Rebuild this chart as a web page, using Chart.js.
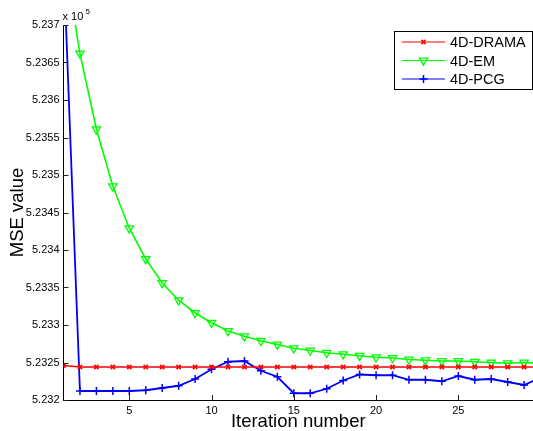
<!DOCTYPE html>
<html>
<head>
<meta charset="utf-8">
<script src="https://cdn.jsdelivr.net/npm/chart.js@4/dist/chart.umd.min.js"></script>
<style>
  html, body { margin: 0; padding: 0; background: #fff; }
  #msechart { display: block; }
</style>
</head>
<body>
<canvas id="msechart" width="533" height="431"></canvas>
<script>
// MSE values, in units of 1e5
const iterations = [1,2,3,4,5,6,7,8,9,10,11,12,13,14,15,16,17,18,19,20,21,22,23,24,25,26,27,28,29,30];
const dramaMSE = [5.23246,5.23244,5.23244,5.23244,5.23244,5.23244,5.23244,5.23244,5.23244,5.23244,
                  5.23244,5.23244,5.23244,5.23244,5.23244,5.23244,5.23244,5.23244,5.23244,5.23244,
                  5.23244,5.23244,5.23244,5.23244,5.23244,5.23244,5.23244,5.23244,5.23244,5.23244];
const emMSE = [5.23797,5.23662,5.23561,5.23485,5.23429,5.23388,5.23356,5.23333,5.23316,5.23303,
               5.23292,5.23285,5.23279,5.23274,5.23269,5.23266,5.23263,5.23261,5.23259,5.23257,
               5.23256,5.23254,5.23253,5.23252,5.23252,5.23251,5.2325,5.23249,5.2325,5.23249];
const pcgMSE = [5.23787,5.23212,5.23212,5.23212,5.23212,5.23213,5.23216,5.23219,5.23228,5.23241,
                5.23251,5.23252,5.23239,5.23231,5.23209,5.23209,5.23215,5.23226,5.23234,5.23233,
                5.23233,5.23227,5.23227,5.23225,5.23232,5.23227,5.23228,5.23224,5.2322,5.2323];
const seriesNames = ["4D-DRAMA", "4D-EM", "4D-PCG"];
const xTicks = [5, 10, 15, 20, 25];
const yTicks = [5.232, 5.2325, 5.233, 5.2335, 5.234, 5.2345, 5.235, 5.2355, 5.236, 5.2365, 5.237];

const FONT = "'Liberation Sans', Arial, Helvetica, sans-serif";

function toPoints(ys) {
  return iterations.map((x, i) => ({x: x, y: ys[i]}));
}

// MATLAB style: tick marks pointing into the plot, exponent label, boxed legend
const matlabBits = {
  id: "matlabBits",
  afterDraw(chart) {
    const ctx = chart.ctx;
    const xs = chart.scales.x, ys = chart.scales.y;
    const area = chart.chartArea;
    ctx.save();
    ctx.strokeStyle = "#222";
    ctx.lineWidth = 1;
    ctx.beginPath();
    xTicks.forEach(v => {
      const px = Math.round(xs.getPixelForValue(v)) + 0.5;
      ctx.moveTo(px, area.bottom);
      ctx.lineTo(px, area.bottom - 5);
    });
    yTicks.forEach(v => {
      const py = Math.round(ys.getPixelForValue(v)) + 0.5;
      ctx.moveTo(area.left, py);
      ctx.lineTo(area.left + 5, py);
    });
    ctx.stroke();

    // x 10^5
    ctx.fillStyle = "#000";
    ctx.textBaseline = "alphabetic";
    ctx.textAlign = "left";
    ctx.font = "11px " + FONT;
    ctx.fillText("x 10", area.left - 1, 20);
    ctx.font = "8px " + FONT;
    ctx.fillText("5", area.left + 22, 14);

    // legend
    const bx = 394, by = 31, bw = 138, bh = 58;
    ctx.fillStyle = "#fff";
    ctx.fillRect(bx, by, bw, bh);
    ctx.strokeStyle = "#000";
    ctx.strokeRect(bx + 0.5, by + 0.5, bw, bh);
    const rows = [42, 60.5, 79];
    chart.data.datasets.forEach((ds, i) => {
      const y = rows[i];
      ctx.strokeStyle = ds.borderColor;
      ctx.lineWidth = 1.2;
      ctx.beginPath();
      ctx.moveTo(402, y);
      ctx.lineTo(445, y);
      ctx.stroke();
      ctx.fillStyle = "rgba(0,0,0,0)";
      ctx.lineWidth = ds.pointBorderWidth;
      Chart.helpers.drawPoint(ctx, {
        pointStyle: ds.pointStyle,
        rotation: ds.pointRotation || 0,
        radius: ds.pointRadius,
        borderWidth: ds.pointBorderWidth
      }, 423.5, y);
      ctx.fillStyle = "#000";
      ctx.font = "14.5px " + FONT;
      ctx.textBaseline = "middle";
      ctx.fillText(ds.label, 450, y + 1);
    });
    ctx.restore();
  }
};

new Chart("msechart", {
  type: "line",
  data: {
    datasets: [
      {
        label: seriesNames[0],
        data: toPoints(dramaMSE),
        borderColor: "#ff0000",
        borderWidth: 1.6,
        pointStyle: "crossRot",
        pointRadius: 3,
        pointBorderWidth: 1.6,
        pointBorderColor: "#ff0000",
        pointBackgroundColor: "rgba(0,0,0,0)",
        fill: false,
        tension: 0
      },
      {
        label: seriesNames[1],
        data: toPoints(emMSE),
        borderColor: "#00ff00",
        borderWidth: 1.6,
        pointStyle: "triangle",
        pointRotation: 180,
        pointRadius: 4.8,
        pointBorderWidth: 1.3,
        pointBorderColor: "#00ff00",
        pointBackgroundColor: "rgba(0,0,0,0)",
        fill: false,
        tension: 0
      },
      {
        label: seriesNames[2],
        data: toPoints(pcgMSE),
        borderColor: "#0000ff",
        borderWidth: 1.8,
        pointStyle: "cross",
        pointRadius: 4,
        pointBorderWidth: 1.5,
        pointBorderColor: "#0000ff",
        pointBackgroundColor: "rgba(0,0,0,0)",
        fill: false,
        tension: 0
      }
    ]
  },
  options: {
    responsive: false,
    animation: false,
    layout: {autoPadding: false, padding: {top: 25, left: 0, right: 0, bottom: 0}},
    plugins: {
      legend: {display: false},
      tooltip: {enabled: false}
    },
    scales: {
      x: {
        type: "linear",
        min: 1,
        max: 29.54,
        afterBuildTicks: s => { s.ticks = xTicks.map(v => ({value: v})); },
        afterFit: s => { s.height = 31; },
        grid: {display: true, drawOnChartArea: false, drawTicks: false},
        border: {display: true, color: "#000", width: 1},
        ticks: {
          color: "#000",
          padding: 4,
          maxRotation: 0,
          font: {family: FONT, size: 11},
          callback: v => String(v)
        },
        title: {
          display: true,
          text: "Iteration number",
          color: "#000",
          padding: {top: 0, bottom: 0},
          font: {family: FONT, size: 18.5, lineHeight: 1}
        }
      },
      y: {
        type: "linear",
        min: 5.232,
        max: 5.237,
        afterBuildTicks: s => { s.ticks = yTicks.map(v => ({value: v})); },
        afterFit: s => { s.width = 63.5; },
        grid: {display: true, drawOnChartArea: false, drawTicks: false},
        border: {display: true, color: "#000", width: 1},
        ticks: {
          color: "#000",
          padding: 4,
          font: {family: FONT, size: 11},
          callback: v => String(+v.toFixed(4))
        },
        title: {
          display: true,
          text: "MSE value",
          color: "#000",
          padding: {top: 8.25, bottom: 0},
          font: {family: FONT, size: 18.5, lineHeight: 1}
        }
      }
    }
  },
  plugins: [matlabBits]
});
</script>
</body>
</html>
